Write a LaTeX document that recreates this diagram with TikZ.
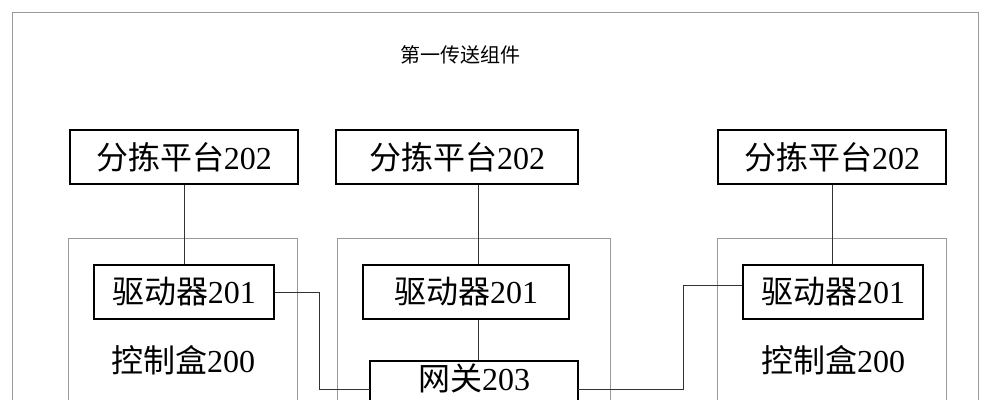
\documentclass[tikz,border=0pt]{standalone}
\usepackage{fontspec}
\setmainfont{Liberation Serif}
\newfontfamily\cjk{Noto Sans CJK SC}
\begin{document}
\begin{tikzpicture}[x=0.75pt,y=-0.75pt,
  bx/.style={draw,line width=1.4pt,inner sep=0pt,font=\fontsize{24}{27}\selectfont},
  cb/.style={draw=gray!80,line width=0.6pt},
  ln/.style={draw=black!80,line width=0.6pt}]
\useasboundingbox (0,0) rectangle (990,400);
\clip (0,0) rectangle (990,400);
\fill[white] (0,0) rectangle (990,400);
\draw[cb] (12,12) rectangle (978,430);
\node (title) at (460,55) {\fontsize{15}{17}\selectfont\cjk 第一传送组件};
% control boxes
\draw[cb] (68,238) rectangle (297,430);
\draw[cb] (337,238) rectangle (610,430);
\draw[cb] (717,238) rectangle (946,430);
\node (c1) at (183,360) {\fontsize{24}{27}\selectfont{\cjk 控制盒}200};
\node (c3) at (833,360) {\fontsize{24}{27}\selectfont{\cjk 控制盒}200};
% top boxes
\node[bx,minimum width=171pt,minimum height=41pt] (p1) at (184,157) {{\cjk 分拣平台}202};
\node[bx,minimum width=181pt,minimum height=41pt] (p2) at (457,157) {{\cjk 分拣平台}202};
\node[bx,minimum width=171pt,minimum height=41pt] (p3) at (832,157) {{\cjk 分拣平台}202};
% drivers
\node[bx,minimum width=135pt,minimum height=41pt] (d1) at (184,292) {{\cjk 驱动器}201};
\node[bx,minimum width=155pt,minimum height=41pt] (d2) at (466,292) {{\cjk 驱动器}201};
\node[bx,minimum width=135pt,minimum height=41pt] (d3) at (833,292) {{\cjk 驱动器}201};
% gateway
\node[bx,minimum width=156pt,minimum height=45pt,anchor=north,text depth=20pt] (g) at (474,360) {{\cjk 网关}203};
\coordinate (ga) at (370,389);
\coordinate (gb) at (578,389);
\coordinate (m) at (478,0);
\draw[ln] (p1.south) -- (d1.north);
\draw[ln] (p2.south -| m) -- (d2.north -| m);
\draw[ln] (p3.south) -- (d3.north -| p3.south);
\draw[ln] (d2.south -| m) -- (g.north -| m);
\draw[ln] (d1.east) -- (319,292) -- (319,389) -- (ga);
\draw[ln] (gb) -- (683,389) -- (683,285) -- (d3.west |- 0,285);
\end{tikzpicture}
\end{document}
